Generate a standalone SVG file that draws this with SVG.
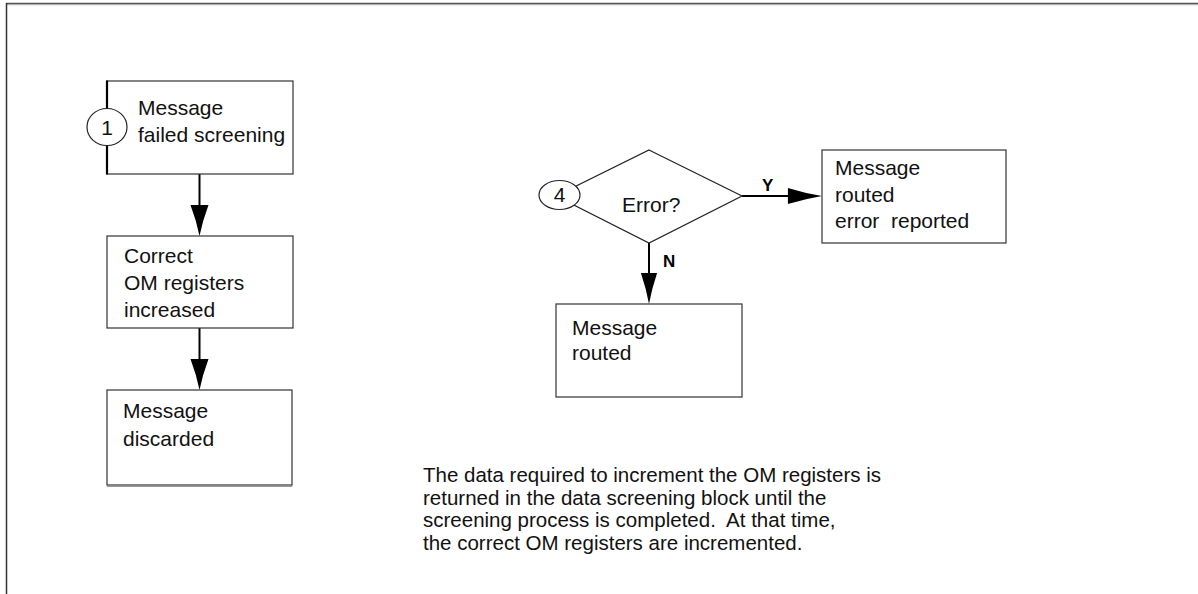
<svg xmlns="http://www.w3.org/2000/svg" width="1198" height="594" viewBox="0 0 1198 594">
<style>
.box{fill:#fff;stroke:#333;stroke-width:1.2}
.t{font-family:"Liberation Sans",Arial,sans-serif;font-size:21px;fill:#111}
.note{font-family:"Liberation Sans",Arial,sans-serif;font-size:20.5px;fill:#111;white-space:pre}
.lbl{font-family:"Liberation Sans",Arial,sans-serif;font-size:17px;font-weight:bold;fill:#000}
.conn{stroke:#000;stroke-width:2;fill:none}
.head{fill:#000;stroke:none}
.ell{fill:#fff;stroke:#222;stroke-width:1.2}
</style>
<defs>
<path id="ahd" d="M0,0 Q-3,-15 -9,-31 L9,-31 Q3,-15 0,0 Z"/>
</defs>
<rect width="1198" height="594" fill="#fff"/>
<g id="frame">
<line x1="6" y1="3.5" x2="1198" y2="3.5" stroke="#555" stroke-width="1.5"/>
<line x1="6" y1="4.7" x2="1198" y2="4.7" stroke="#aaa" stroke-width="1"/>
<line x1="6.5" y1="3" x2="6.5" y2="594" stroke="#333" stroke-width="1.5"/>
</g>
<g id="connectors">
<line class="conn" x1="199.5" y1="174" x2="199.5" y2="210"/>
<use href="#ahd" class="head" transform="translate(199.5,236)"/>
<line class="conn" x1="199.5" y1="328" x2="199.5" y2="364"/>
<use href="#ahd" class="head" transform="translate(199.5,390)"/>
<line class="conn" x1="649" y1="243" x2="649" y2="278"/>
<use href="#ahd" class="head" transform="translate(649,304) scale(0.9,1)"/>
<line class="conn" x1="742" y1="196" x2="792" y2="196"/>
<use href="#ahd" class="head" transform="translate(822,196) rotate(-90) scale(0.9,1.1)"/>
<text class="lbl" x="762" y="191">Y</text>
<text class="lbl" x="663" y="267">N</text>
</g>
<g id="n1">
<rect class="box" x="107" y="81" width="186" height="93"/>
<line x1="107" y1="80.5" x2="107" y2="174.5" stroke="#000" stroke-width="2.2"/>
<ellipse class="ell" cx="107" cy="127" rx="20" ry="18.5"/>
<text class="t" x="107" y="135" text-anchor="middle">1</text>
<text class="t" x="138" y="115">Message</text>
<text class="t" x="138" y="142">failed screening</text>
</g>
<g id="n2">
<rect class="box" x="107" y="236" width="186" height="92"/>
<text class="t" x="124" y="263">Correct</text>
<text class="t" x="124" y="290">OM registers</text>
<text class="t" x="124" y="317">increased</text>
</g>
<g id="n3">
<rect class="box" x="107" y="390" width="185" height="95"/>
<line x1="107" y1="486.5" x2="292" y2="486.5" stroke="#999" stroke-width="1"/>
<text class="t" x="123" y="418">Message</text>
<text class="t" x="123" y="446">discarded</text>
</g>
<g id="n4">
<polygon points="649,150 742,196 649,243 556,196" fill="#fff" stroke="#222" stroke-width="1.2"/>
<ellipse class="ell" cx="559.5" cy="195" rx="20.5" ry="14.5"/>
<text class="t" x="559.5" y="202" text-anchor="middle">4</text>
<text class="t" x="622" y="212">Error?</text>
</g>
<g id="n5">
<rect class="box" x="822" y="150" width="184" height="93"/>
<text class="t" x="835" y="175">Message</text>
<text class="t" x="835" y="202">routed</text>
<text class="t" x="835" y="228" style="white-space:pre">error  reported</text>
</g>
<g id="n6">
<rect class="box" x="556" y="304" width="186" height="93"/>
<text class="t" x="572" y="335">Message</text>
<text class="t" x="572" y="360">routed</text>
</g>
<g id="note">
<text class="note" x="423" y="482">The data required to increment the OM registers is</text>
<text class="note" x="423" y="504.5">returned in the data screening block until the</text>
<text class="note" x="423" y="527">screening process is completed.  At that time,</text>
<text class="note" x="423" y="549.5">the correct OM registers are incremented.</text>
</g>
</svg>
